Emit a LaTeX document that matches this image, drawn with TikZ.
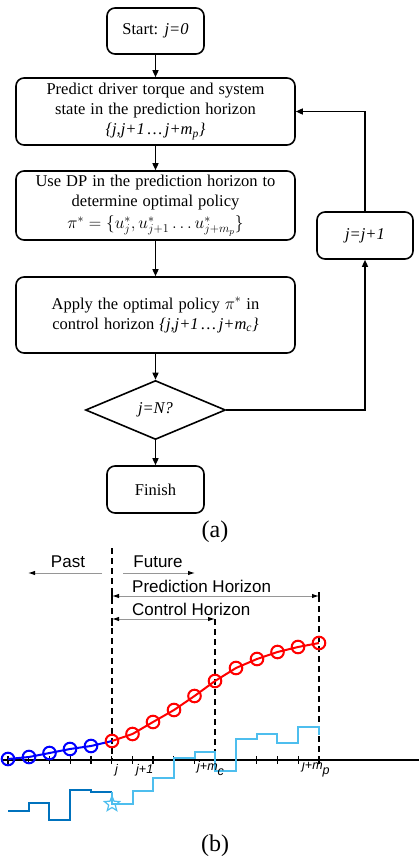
\documentclass[tikz,border=0pt]{standalone}
\usepackage{fontspec}
\setmainfont{Liberation Serif}
\newfontfamily\arialf{Liberation Sans}
\usetikzlibrary{arrows.meta,shapes.geometric}
\definecolor{mred}{RGB}{255,0,0}
\definecolor{mblue}{RGB}{0,0,255}
\definecolor{lblue}{RGB}{77,190,238}
\definecolor{dblue}{RGB}{0,114,189}
\definecolor{garr}{RGB}{150,150,150}
\newcommand\flowfont{\fontsize{16.5}{20}\selectfont\spaceskip=5pt plus 1pt\relax}
\begin{document}
\begin{tikzpicture}[x=1pt,y=-1pt,
  box/.style={draw, line width=1.6pt, rounded corners=8pt, align=center,
    font=\flowfont, inner sep=0pt},
  flow/.style={line width=1.4pt, -{Triangle[length=7pt,width=6pt]}},
  lbl/.style={font=\arialf\fontsize{17}{20}\selectfont, inner sep=0pt},
  tlbl/.style={font=\arialf\itshape\fontsize{12.5}{14}\selectfont, inner sep=0pt, anchor=west},
  garrow/.style={draw=garr, line width=1pt},
  dashln/.style={line width=1.8pt, dash pattern=on 6pt off 4pt},
  captxt/.style={font=\fontsize{24}{26}\selectfont, inner sep=0pt}
]
\useasboundingbox (0,0) rectangle (419,861);

% ---------- (a) flowchart ----------
\node[box, minimum width=97pt, minimum height=46pt] (start) at (155.5,31) {Start: \textit{j=0}};
\node[box, minimum width=279pt, minimum height=67pt] (pred) at (155.5,111.5)
  {Predict driver torque and system\\ state in the prediction horizon\\ \textit{\{j,j+1\,…\,j+m}\textsubscript{\textit{p}}\textit{\}}};
\node[box, minimum width=279pt, minimum height=69pt] (dp) at (155.5,205.5)
  {Use DP in the prediction horizon to\\ determine optimal policy\\[2pt] {\fontsize{17.5}{20}\selectfont $\pi^* = \bigl\{u_j^*, u_{j+1}^* \ldots u_{j+m_p}^*\bigr\}$}};
\node[box, minimum width=279pt, minimum height=76pt] (apply) at (155.5,315)
  {Apply the optimal policy $\pi^*$ in\\ control horizon \textit{\{j,j+1\,…\,j+m}\textsubscript{\textit{c}}\textit{\}}};
\node[draw, diamond, line width=1.6pt, minimum width=140pt, minimum height=59pt, aspect=2.37, inner sep=0pt,
  font=\flowfont] (dia) at (155.5,410) {\textit{j=N?}};
\node[box, minimum width=97pt, minimum height=47pt] (fin) at (155.5,489.5) {Finish};
\node[box, minimum width=96pt, minimum height=47pt] (jj) at (365,235.5) {\textit{j=j+1}};

\draw[flow] (start) -- (pred);
\draw[flow] (pred) -- (dp);
\draw[flow] (dp) -- (apply);
\draw[flow] (apply) -- (dia);
\draw[flow] (dia) -- (fin);
\draw[flow] (dia.east) -- (dia.east -| jj.south) -- (jj.south);
\draw[flow] (jj.north) |- (pred.east);

\node[captxt] (capa) at (215,532) {(a)};

% ---------- (b) horizon plot ----------
% axis
\coordinate (axL) at (3,760);
\coordinate (axR) at (419,760);
\draw[line width=1.5pt] (axL) -- (axR);
\foreach \k in {0,...,15} {
  \draw[line width=1.3pt] ({8+20.73*\k},756) -- ({8+20.73*\k},764);
}

% dashed lines
\coordinate (dj1) at (112,548);  \coordinate (dj2) at (112,760);
\coordinate (dc1) at (215,619);  \coordinate (dc2) at (215,760);
\coordinate (dp1) at (319,596);  \coordinate (dp2) at (319,760);
\draw[dashln] (dj1) -- (dj2);
\draw[dashln] (dc1) -- (dc2);
\draw[dashln] (dp1) -- (dp2);

% Past / Future
\node[lbl] (past) at (68,562) {Past};
\node[lbl] (future) at (158,562) {Future};
\coordinate (pa1) at (102,573); \coordinate (pa2) at (28,573);
\coordinate (fu1) at (123,573); \coordinate (fu2) at (195,573);
\draw[garrow, -{Latex[length=7pt,width=4.5pt,color=black]}] (pa1) -- (pa2);
\draw[garrow, -{Latex[length=7pt,width=4.5pt,color=black]}] (fu1) -- (fu2);

% horizons
\node[lbl, anchor=west] (pht) at (132,586) {Prediction Horizon};
\node[lbl, anchor=west] (cht) at (132,609) {Control Horizon};
\coordinate (ph1) at (112,596); \coordinate (ph2) at (319,596);
\coordinate (ch1) at (112,619); \coordinate (ch2) at (215,619);
\draw[garrow, {Latex[length=7pt,width=4.5pt,color=black]}-{Latex[length=7pt,width=4.5pt,color=black]}] (ph1) -- (ph2);
\draw[garrow, {Latex[length=7pt,width=4.5pt,color=black]}-{Latex[length=7pt,width=4.5pt,color=black]}] (ch1) -- (ch2);
\draw[line width=1.4pt] (112,592) -- (112,600);
\draw[line width=1.4pt] (319,592) -- (319,600);
\draw[line width=1.4pt] (112,619) -- (112,626);

% control staircases
\draw[dblue, line width=2pt, line join=miter]
  (8,811) -- (29,811) -- (29,803) -- (49,803) -- (49,820) -- (70,820) -- (70,790)
  -- (91,790) -- (91,792) -- (112,792);
\draw[lblue, line width=2pt, line join=miter]
  (112,792) -- (112,804) -- (133,804) -- (133,791) -- (153,791) -- (153,778) -- (174,778) -- (174,758)
  -- (195,758) -- (195,752) -- (215,752) -- (215,771) -- (236,771) -- (236,739)
  -- (257,739) -- (257,734) -- (277,734) -- (277,743) -- (298,743) -- (298,727)
  -- (319,727) -- (319,735);
\node[star, star points=5, star point ratio=2.3, draw=lblue, line width=1.2pt,
  minimum size=16pt, inner sep=0pt] (st) at (112,804) {};

% state trajectories
\draw[mblue, line width=2pt] (8,759) -- (29,757) -- (49.5,753) -- (70,749) -- (91,746) -- (112,741);
\foreach \x/\y in {8/759, 29/757, 49.5/753, 70/749, 91/746} {
  \draw[mblue, line width=2pt] (\x,\y) circle (6.3pt);
}
\draw[mred, line width=2pt] (112,741) -- (132.5,734) -- (153,722) -- (174,710) -- (194.5,696)
  -- (215,681) -- (236,668) -- (257,659) -- (277.5,652) -- (298,647) -- (319,643);
\foreach \x/\y in {112/741, 132.5/734, 153/722, 174/710, 194.5/696, 215/681, 236/668, 257/659, 277.5/652, 298/647, 319/643} {
  \draw[mred, line width=2pt] (\x,\y) circle (6.3pt);
}

% tick labels
\node[tlbl] (tj) at (115,770) {j};
\node[tlbl] (tj1) at (136,770) {j+1};
\node[tlbl] (tjc) at (197,769) {j+m\raisebox{-5pt}{c}};
\node[tlbl] (tjp) at (302,769) {j+m\raisebox{-5pt}{p}};

\node[captxt] (capb) at (215,846) {(b)};
\end{tikzpicture}
\end{document}
